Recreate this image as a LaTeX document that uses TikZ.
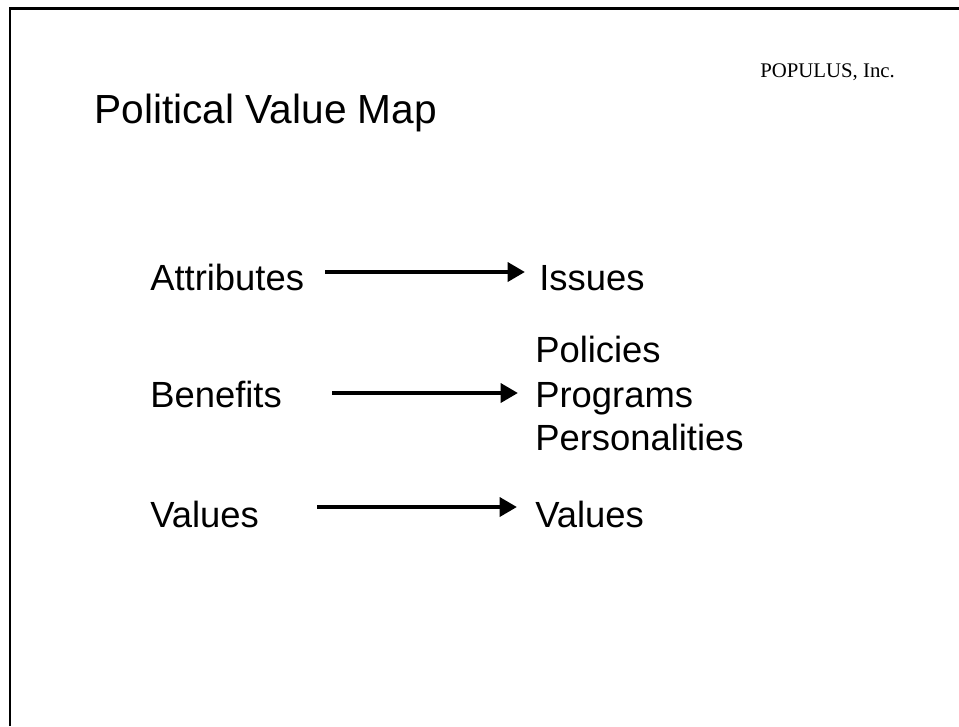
\documentclass[tikz,border=0pt]{standalone}
\usepackage{fontspec}
\setmainfont{Liberation Sans}
\newfontfamily\serifcorp{Liberation Serif}
\usetikzlibrary{arrows.meta}
\tikzset{
  frame/.style={line width=1.6pt, black},
  body/.style={anchor=base west, inner sep=0pt, font=\fontsize{27.3}{33}\selectfont},
  title/.style={anchor=base west, inner sep=0pt, font=\fontsize{30.5}{36}\selectfont},
  corp/.style={anchor=base west, inner sep=0pt, font=\serifcorp\fontsize{15.6}{18}\selectfont},
  arr/.style={line width=3.7pt, -{Triangle[length=13pt,width=14pt]}},
}
\begin{document}
\begin{tikzpicture}[x=0.75pt,y=-0.75pt]
\useasboundingbox (0,0) rectangle (959,726);
\draw[frame] (10,726) -- (10,8.5) -- (959,8.5);
\node[corp] (corp) at (760,77) {POPULUS, Inc.};
\node[title] (title) at (94,123) {Political Value Map};
\node[body] (attr) at (150,290) {Attributes};
\node[body] (issues) at (539,290) {Issues};
\node[body] (benef) at (150,407) {Benefits};
\node[body] (pol) at (535,362) {Policies};
\node[body] (prog) at (535,407) {Programs};
\node[body] (pers) at (535,450) {Personalities};
\node[body] (valL) at (150,527) {Values};
\node[body] (valR) at (535,527) {Values};
\coordinate (a1s) at (325,272);
\coordinate (a1e) at (525,272);
\coordinate (a2s) at (332,393);
\coordinate (a2e) at (518,393);
\coordinate (a3s) at (317,507);
\coordinate (a3e) at (517,507);
\draw[arr] (a1s) -- (a1e);
\draw[arr] (a2s) -- (a2e);
\draw[arr] (a3s) -- (a3e);
\end{tikzpicture}
\end{document}
